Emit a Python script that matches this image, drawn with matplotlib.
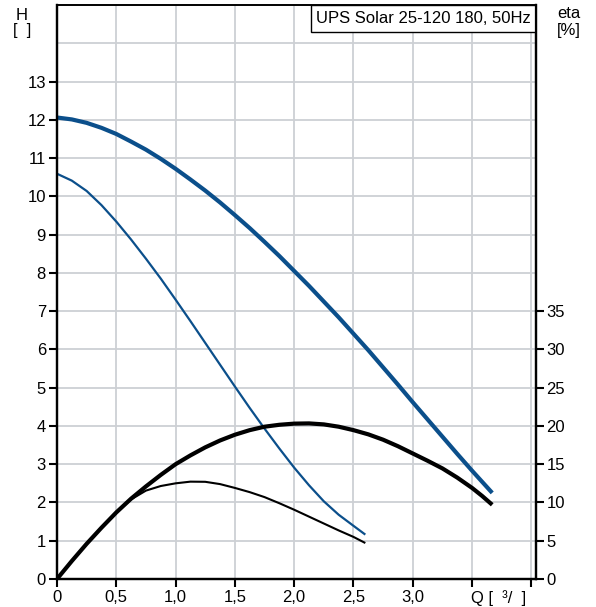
import matplotlib.pyplot as plt
from matplotlib.patches import Rectangle

plt.rcParams['font.family'] = ['Liberation Sans', 'DejaVu Sans']

# curve data (Q in m3/h)
q_max = [0, 0.125, 0.25, 0.375, 0.5, 0.625, 0.75, 0.875, 1.0, 1.125, 1.25, 1.375, 1.5, 1.625,
         1.75, 1.875, 2.0, 2.125, 2.25, 2.375, 2.5, 2.625, 2.75, 2.875, 3.0, 3.125, 3.25, 3.375,
         3.5, 3.585, 3.67]
h_max = [12.06, 12.01, 11.92, 11.79, 11.63, 11.43, 11.22, 10.98, 10.72, 10.44, 10.15, 9.84,
         9.51, 9.17, 8.81, 8.44, 8.05, 7.66, 7.25, 6.84, 6.41, 5.98, 5.53, 5.08, 4.62, 4.17,
         3.72, 3.27, 2.83, 2.54, 2.25]

q_min = [0, 0.125, 0.25, 0.375, 0.5, 0.625, 0.75, 0.875, 1.0, 1.125, 1.25, 1.375, 1.5, 1.625,
         1.75, 1.875, 2.0, 2.125, 2.25, 2.375, 2.5, 2.6]
h_min = [10.59, 10.41, 10.14, 9.77, 9.34, 8.87, 8.37, 7.85, 7.30, 6.74, 6.17, 5.60, 5.03,
         4.47, 3.93, 3.41, 2.91, 2.45, 2.03, 1.68, 1.39, 1.16]

q_eta_max = q_max
eta_max = [0, 2.35, 4.6, 6.7, 8.7, 10.5, 12.1, 13.6, 15.0, 16.15, 17.2, 18.1, 18.85, 19.45,
           19.9, 20.15, 20.3, 20.33, 20.2, 19.9, 19.45, 18.9, 18.2, 17.35, 16.4, 15.45, 14.45,
           13.25, 11.9, 10.85, 9.7]

q_eta_min = q_min
eta_min = [0, 2.35, 4.6, 6.7, 8.7, 10.4, 11.55, 12.15, 12.5, 12.72, 12.7, 12.4, 11.9, 11.35,
           10.7, 9.9, 9.05, 8.15, 7.25, 6.35, 5.5, 4.7]

h_ticks = list(range(0, 14))
eta_ticks = list(range(0, 40, 5))
q_ticks = [0, 0.5, 1.0, 1.5, 2.0, 2.5, 3.0, 3.5, 4.0]
q_labels = ["0", "0,5", "1,0", "1,5", "2,0", "2,5", "3,0", "", ""]

blue = "#0b4f8b"
grid = "#cdd0d4"
fs = 12

fig = plt.figure(figsize=(5.96, 6.07), dpi=100)
ax = fig.add_axes([57/596, 1-579/607, (535.5-57)/596, (579-5)/607])
ax.set_xlim(0, 4.035)
ax.set_ylim(0, 15)

for x in q_ticks[1:]:
    ax.axvline(x, color=grid, lw=1.3, zorder=0)
for y in range(1, 15):
    ax.axhline(y, color=grid, lw=1.3, zorder=0)

ax.plot(q_max, h_max, color=blue, lw=3.0, solid_capstyle='butt')
ax.plot(q_min, h_min, color=blue, lw=1.6, solid_capstyle='butt')

ax2 = ax.twinx()
ax2.set_ylim(0, 75)
ax2.plot(q_eta_max, eta_max, color='black', lw=3.0, solid_capstyle='butt')
ax2.plot(q_eta_min, eta_min, color='black', lw=1.5, solid_capstyle='butt')

ax.set_yticks(h_ticks)
ax.set_yticklabels([str(t) for t in h_ticks])
ax.set_xticks(q_ticks)
ax.set_xticklabels(q_labels)
ax2.set_yticks(eta_ticks)
ax2.set_yticklabels([str(t) for t in eta_ticks])

for a in (ax, ax2):
    for s in a.spines.values():
        s.set_linewidth(1.6)
    a.spines['top'].set_linewidth(1.2)
ax.tick_params(axis='both', direction='out', length=6, width=1.5, labelsize=fs, pad=2)
ax2.tick_params(axis='y', direction='out', length=6, width=1.5, labelsize=fs, pad=2)

ax.annotate("Q [  ³/  ]", xy=(3.488, 0), xycoords='data', xytext=(0, -8),
            textcoords='offset points', ha='left', va='top', fontsize=fs)

# title box in the top right corner
x0 = (310.7-57)/(535.5-57)
y0 = 1-(32.3-5)/574
ax.add_patch(Rectangle((x0, y0), 1-x0, 1-y0, transform=ax.transAxes,
                       facecolor='white', edgecolor='black', lw=1.0, zorder=5))
ax.text((x0+1)/2, (y0+1)/2, "UPS Solar 25-120 180, 50Hz", transform=ax.transAxes,
        ha='center', va='center', fontsize=fs, zorder=6)

fig.text(22/596, 1-15/607, "H", ha='center', va='center', fontsize=fs)
fig.text(22/596, 1-31/607, "[  ]", ha='center', va='center', fontsize=fs)
fig.text(569/596, 1-14/607, "eta", ha='center', va='center', fontsize=fs)
fig.text(569/596, 1-31/607, "[%]", ha='center', va='center', fontsize=fs)

fig.savefig("out.png", dpi=100)
